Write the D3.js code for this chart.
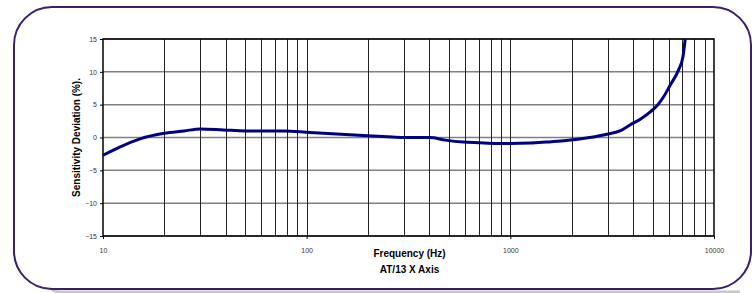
<!DOCTYPE html>
<html>
<head>
<meta charset="utf-8">
<script src="https://cdn.jsdelivr.net/npm/d3@7"></script>
<style>
    body { margin: 0; background: #fff; }
    svg text { font-family: "Liberation Sans", Arial, sans-serif; }
</style>
</head>
<body>
<div id="chart"></div>
<script>
// frequency response
var freqs = [10, 12, 15.2, 20, 25, 30, 39, 50, 77, 104, 140, 189, 250, 298, 403, 480, 587, 700, 857, 1000, 1250, 1500, 1831, 2454, 2978, 3500, 3868, 4400, 4864, 5300, 5657, 6100, 6700, 7040, 7222];
var deviation = [-2.7, -1.5, -0.2, 0.65, 1.0, 1.3, 1.15, 1.0, 1.0, 0.75, 0.55, 0.3, 0.1, 0.0, 0.0, -0.4, -0.7, -0.8, -0.9, -0.9, -0.85, -0.7, -0.5, 0.0, 0.5, 1.1, 1.9, 2.9, 3.9, 5.0, 6.2, 8.0, 10.3, 12.3, 15];
var yTicks = [-15, -10, -5, 0, 5, 10, 15];
var xTickLabels = [10, 100, 1000, 10000];
var xGrid = [20, 30, 40, 50, 60, 70, 80, 90, 200, 300, 400, 500, 600, 700, 800, 900, 2000, 3000, 4000, 5000, 6000, 7000, 8000, 9000];

var width = 755, height = 293;
var svg = d3.select("#chart").append("svg")
    .attr("width", width)
    .attr("height", height);

// card with shadow
svg.append("path")
    .attr("d", "M16,40 Q16,292 60,292 L740,292")
    .attr("fill", "none")
    .attr("stroke", "#c8c8c8")
    .attr("stroke-width", 3);
svg.append("rect")
    .attr("x", 14).attr("y", 7)
    .attr("width", 737).attr("height", 282)
    .attr("rx", 38).attr("ry", 38)
    .attr("fill", "#fff")
    .attr("stroke", "#3b1f6b")
    .attr("stroke-width", 2);

var plotLeft = 103, plotRight = 714, plotTop = 39, plotBottom = 236;

var x = d3.scaleLog().domain([10, 10000]).range([plotLeft, plotRight]);
var y = d3.scaleLinear().domain([-15, 15]).range([plotBottom, plotTop]);

// horizontal grid
svg.append("g").selectAll("line")
    .data(yTicks)
    .enter().append("line")
    .attr("x1", plotLeft).attr("x2", plotRight)
    .attr("y1", function (d) { return y(d); })
    .attr("y2", function (d) { return y(d); })
    .attr("stroke", "#808080")
    .attr("stroke-width", 1.5);

// vertical grid
svg.append("g").selectAll("line")
    .data(xGrid.concat([100, 1000]))
    .enter().append("line")
    .attr("x1", function (d) { return Math.round(x(d)) + 0.5; })
    .attr("x2", function (d) { return Math.round(x(d)) + 0.5; })
    .attr("y1", plotTop).attr("y2", plotBottom)
    .attr("stroke", "#222")
    .attr("stroke-width", 1);

// frame
svg.append("rect")
    .attr("x", plotLeft).attr("y", plotTop)
    .attr("width", plotRight - plotLeft).attr("height", plotBottom - plotTop)
    .attr("fill", "none")
    .attr("stroke", "#000")
    .attr("stroke-width", 1.5);

// axes
var yAxis = d3.axisLeft(y).tickValues(yTicks).tickSize(3).tickPadding(3);
var gy = svg.append("g")
    .attr("transform", "translate(" + plotLeft + ",0)")
    .call(yAxis);
gy.select(".domain").remove();
gy.selectAll("text").attr("font-size", "7px").attr("fill", "#333");

var xAxis = d3.axisBottom(x).tickValues(xTickLabels).tickFormat(d3.format("d")).tickSize(3).tickPadding(9);
var gx = svg.append("g")
    .attr("transform", "translate(0," + plotBottom + ")")
    .call(xAxis);
gx.select(".domain").remove();
gx.selectAll("text").attr("font-size", "7px").attr("fill", "#333");

// curve
var line = d3.line()
    .x(function (d, i) { return x(freqs[i]); })
    .y(function (d) { return y(d); })
    .curve(d3.curveMonotoneX);

svg.append("path")
    .datum(deviation)
    .attr("d", line)
    .attr("fill", "none")
    .attr("stroke", "#000080")
    .attr("stroke-width", 3);

// labels
svg.append("text")
    .attr("transform", "translate(80," + ((plotTop + plotBottom) / 2) + ") rotate(-90)")
    .attr("text-anchor", "middle")
    .attr("font-size", "10px")
    .attr("font-weight", "bold")
    .text("Sensitivity Deviation (%).");

svg.append("text")
    .attr("x", (plotLeft + plotRight) / 2 + 1)
    .attr("y", 257)
    .attr("text-anchor", "middle")
    .attr("font-size", "10px")
    .attr("font-weight", "bold")
    .text("Frequency (Hz)");

svg.append("text")
    .attr("x", (plotLeft + plotRight) / 2 + 1)
    .attr("y", 273)
    .attr("text-anchor", "middle")
    .attr("font-size", "10px")
    .attr("font-weight", "bold")
    .text("AT/13 X Axis");
</script>
</body>
</html>
